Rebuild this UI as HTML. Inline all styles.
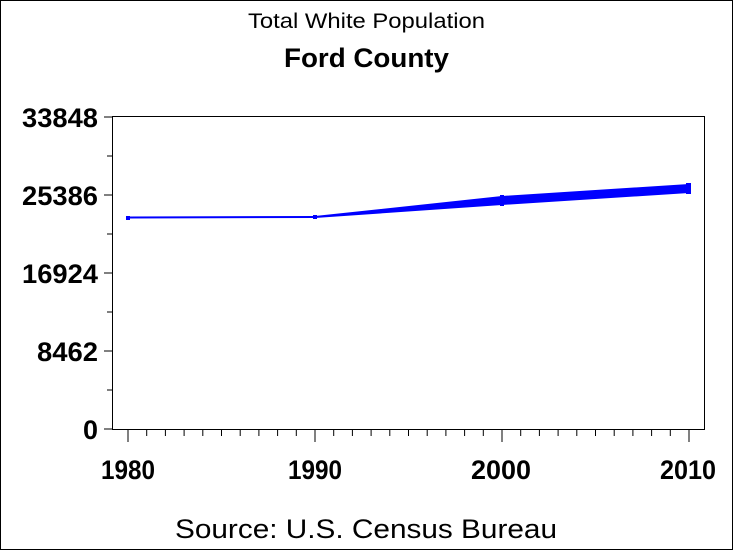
<!DOCTYPE html>
<html><head><style>
body{margin:0;background:#fff}
svg{display:block}
text{font-family:"Liberation Sans",Arial,sans-serif;fill:#000}
</style></head><body>
<svg width="733" height="550" viewBox="0 0 733 550">
<rect x="0.5" y="0.5" width="732" height="549" fill="#fff" stroke="#000"/>
<text x="248" y="28" font-size="21" textLength="237" lengthAdjust="spacingAndGlyphs">Total White Population</text>
<text x="284" y="67" font-size="27" font-weight="bold" textLength="165" lengthAdjust="spacingAndGlyphs">Ford County</text>
<rect x="112.5" y="116.5" width="592" height="313" fill="none" stroke="#000"/>
<g stroke="#000" stroke-width="1">
<line x1="104" y1="117" x2="113" y2="117"/><line x1="107" y1="156" x2="113" y2="156"/>
<line x1="104" y1="195" x2="113" y2="195"/><line x1="107" y1="234" x2="113" y2="234"/>
<line x1="104" y1="273" x2="113" y2="273"/><line x1="107" y1="312" x2="113" y2="312"/>
<line x1="104" y1="351" x2="113" y2="351"/><line x1="107" y1="390" x2="113" y2="390"/>
<line x1="104" y1="429" x2="113" y2="429"/>
<line x1="128" y1="429" x2="128" y2="442"/><line x1="146.7" y1="429" x2="146.7" y2="436"/>
<line x1="165.4" y1="429" x2="165.4" y2="436"/><line x1="184.1" y1="429" x2="184.1" y2="436"/>
<line x1="202.8" y1="429" x2="202.8" y2="436"/><line x1="221.5" y1="429" x2="221.5" y2="436"/>
<line x1="240.2" y1="429" x2="240.2" y2="436"/><line x1="258.9" y1="429" x2="258.9" y2="436"/>
<line x1="277.6" y1="429" x2="277.6" y2="436"/><line x1="296.3" y1="429" x2="296.3" y2="436"/>
<line x1="315" y1="429" x2="315" y2="442"/><line x1="333.7" y1="429" x2="333.7" y2="436"/>
<line x1="352.4" y1="429" x2="352.4" y2="436"/><line x1="371.1" y1="429" x2="371.1" y2="436"/>
<line x1="389.8" y1="429" x2="389.8" y2="436"/><line x1="408.5" y1="429" x2="408.5" y2="436"/>
<line x1="427.2" y1="429" x2="427.2" y2="436"/><line x1="445.9" y1="429" x2="445.9" y2="436"/>
<line x1="464.6" y1="429" x2="464.6" y2="436"/><line x1="483.3" y1="429" x2="483.3" y2="436"/>
<line x1="502" y1="429" x2="502" y2="442"/><line x1="520.7" y1="429" x2="520.7" y2="436"/>
<line x1="539.4" y1="429" x2="539.4" y2="436"/><line x1="558.1" y1="429" x2="558.1" y2="436"/>
<line x1="576.8" y1="429" x2="576.8" y2="436"/><line x1="595.5" y1="429" x2="595.5" y2="436"/>
<line x1="614.2" y1="429" x2="614.2" y2="436"/><line x1="632.9" y1="429" x2="632.9" y2="436"/>
<line x1="651.6" y1="429" x2="651.6" y2="436"/><line x1="670.3" y1="429" x2="670.3" y2="436"/>
<line x1="689" y1="429" x2="689" y2="442"/>
</g>
<g font-size="27" font-weight="bold">
<text x="22" y="127" textLength="76" lengthAdjust="spacingAndGlyphs">33848</text>
<text x="22" y="205" textLength="76" lengthAdjust="spacingAndGlyphs">25386</text>
<text x="22" y="283" textLength="76" lengthAdjust="spacingAndGlyphs">16924</text>
<text x="37" y="361" textLength="61" lengthAdjust="spacingAndGlyphs">8462</text>
<text x="83" y="439" textLength="15" lengthAdjust="spacingAndGlyphs">0</text>
</g>
<g font-size="27" font-weight="bold">
<text x="101" y="479" textLength="54" lengthAdjust="spacingAndGlyphs">1980</text>
<text x="288" y="479" textLength="54" lengthAdjust="spacingAndGlyphs">1990</text>
<text x="471" y="479" textLength="60" lengthAdjust="spacingAndGlyphs">2000</text>
<text x="660" y="479" textLength="56" lengthAdjust="spacingAndGlyphs">2010</text>
</g>
<line x1="128" y1="217.5" x2="315" y2="217" stroke="#00f" stroke-width="2"/>
<polygon points="315,216 502,196 689,184 689,193 502,205 315,218" fill="#00f"/>
<rect x="126" y="216" width="4" height="4" fill="#00f"/>
<rect x="313" y="215" width="4" height="4" fill="#00f"/>
<rect x="686" y="183" width="5" height="11" fill="#00f"/>
<rect x="500" y="195" width="4" height="11" fill="#00f"/>
<text x="175" y="538" font-size="27" textLength="382" lengthAdjust="spacingAndGlyphs">Source: U.S. Census Bureau</text>
</svg>
</body></html>
